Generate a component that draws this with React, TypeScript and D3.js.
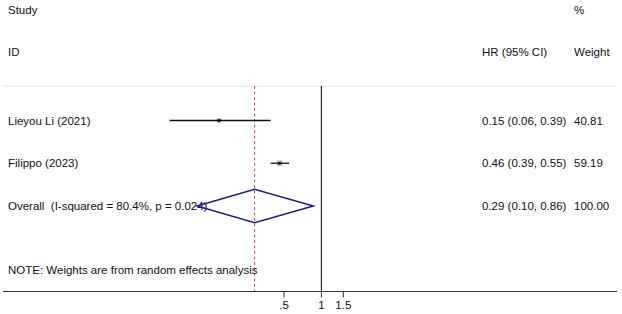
import { useEffect, useRef } from 'react'
import * as d3 from 'd3'

const WIDTH = 622
const HEIGHT = 314

// study rows
const studies = ['Lieyou Li (2021)', 'Filippo (2023)']
const hr = [0.15, 0.46]
const lower = [0.06, 0.39]
const upper = [0.39, 0.55]
const weights = [40.81, 59.19]

// pooled estimate
const overallLabel = 'Overall  (I-squared = 80.4%, p = 0.024)'
const overall = { hr: 0.29, lower: 0.1, upper: 0.86, weight: 100.0 }

const tickValues = [0.5, 1, 1.5]
const tickLabels = ['.5', '1', '1.5']

const FONT = '"Liberation Sans", Arial, sans-serif'
const FONT_SIZE = 11.5

const fmt = d3.format('.2f')

export default function App() {
  const svgRef = useRef<SVGSVGElement>(null)

  useEffect(() => {
    if (!svgRef.current) return
    const svg = d3.select(svgRef.current)
    svg.selectAll('*').remove()

    // log scale for hazard ratio
    const x = d3.scaleLog().domain([0.5, 1.5]).range([284, 343.3])
    const rowY = d3.scalePoint<number>().domain([0, 1, 2]).range([120.5, 206])

    const plotTop = 86
    const axisY = 291.5
    const colCI = 482
    const colW = 574

    const text = (tx: number, ty: number, s: string, anchor = 'start') =>
      svg.append('text')
        .attr('x', tx)
        .attr('y', ty)
        .attr('text-anchor', anchor)
        .attr('font-family', FONT)
        .attr('font-size', FONT_SIZE)
        .attr('fill', '#111')
        .style('white-space', 'pre')
        .text(s)

    // headers
    text(8, 14, 'Study')
    text(colW, 14, '%')
    text(8, 56, 'ID')
    text(colCI, 56, 'HR (95% CI)')
    text(colW, 56, 'Weight')

    // faint top border
    svg.append('line')
      .attr('x1', 3).attr('x2', 617)
      .attr('y1', plotTop).attr('y2', plotTop)
      .attr('stroke', '#e4e4e4').attr('stroke-width', 1)

    // null line at 1
    svg.append('line')
      .attr('x1', x(1)).attr('x2', x(1))
      .attr('y1', plotTop).attr('y2', axisY)
      .attr('stroke', '#222').attr('stroke-width', 1.2)

    // overall effect dashed line
    svg.append('line')
      .attr('x1', x(overall.hr)).attr('x2', x(overall.hr))
      .attr('y1', plotTop).attr('y2', axisY)
      .attr('stroke', '#c0506a').attr('stroke-width', 1)
      .attr('stroke-dasharray', '3,2.5')

    // study rows
    studies.forEach((name, i) => {
      const cy = rowY(i)!
      text(8, cy + 4, name)
      text(colCI, cy + 4, `${fmt(hr[i])} (${fmt(lower[i])}, ${fmt(upper[i])})`)
      text(colW, cy + 4, fmt(weights[i]))

      const side = Math.sqrt(weights[i]) * 0.75
      svg.append('rect')
        .attr('x', x(hr[i]) - side / 2)
        .attr('y', cy - side / 2)
        .attr('width', side)
        .attr('height', side)
        .attr('fill', '#bdbdbd')

      svg.append('line')
        .attr('x1', x(lower[i])).attr('x2', x(upper[i]))
        .attr('y1', cy).attr('y2', cy)
        .attr('stroke', '#111').attr('stroke-width', 1.3)

      svg.append('rect')
        .attr('x', x(hr[i]) - 1.3)
        .attr('y', cy - 1.3)
        .attr('width', 2.6)
        .attr('height', 2.6)
        .attr('fill', '#111')
    })

    // overall row
    const oy = rowY(2)!
    text(8, oy + 4, overallLabel)
    text(colCI, oy + 4, `${fmt(overall.hr)} (${fmt(overall.lower)}, ${fmt(overall.upper)})`)
    text(colW, oy + 4, fmt(overall.weight))

    const half = 16.7
    svg.append('path')
      .attr('d', d3.line()([
        [x(overall.lower), oy],
        [x(overall.hr), oy - half],
        [x(overall.upper), oy],
        [x(overall.hr), oy + half],
      ]) + 'Z')
      .attr('fill', 'none')
      .attr('stroke', '#1c1c80')
      .attr('stroke-width', 1.5)

    text(8, 274, 'NOTE: Weights are from random effects analysis')

    // x axis
    svg.append('line')
      .attr('x1', 3).attr('x2', 617)
      .attr('y1', axisY).attr('y2', axisY)
      .attr('stroke', '#333').attr('stroke-width', 1.2)

    tickValues.forEach((v, i) => {
      svg.append('line')
        .attr('x1', x(v)).attr('x2', x(v))
        .attr('y1', axisY).attr('y2', axisY + 6)
        .attr('stroke', '#333').attr('stroke-width', 1)
      text(x(v), 309, tickLabels[i], 'middle')
    })
  }, [])

  return (
    <svg
      ref={svgRef}
      width={WIDTH}
      height={HEIGHT}
      style={{ position: 'absolute', left: 0, top: 0, background: '#fff' }}
    />
  )
}
